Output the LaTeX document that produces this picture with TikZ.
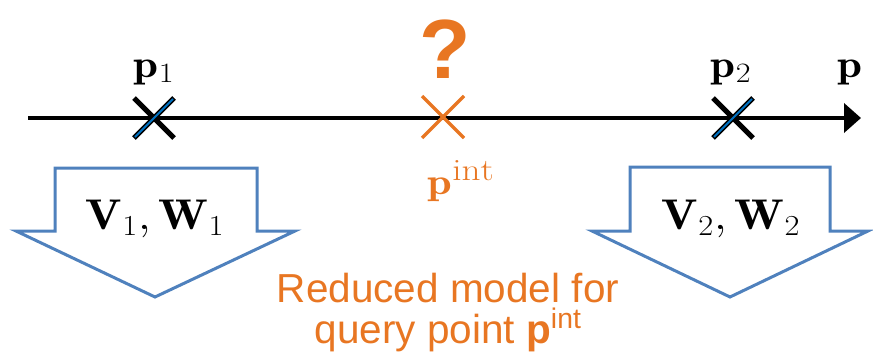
\RequirePackage{fix-cm}
\documentclass[tikz,border=0pt]{standalone}
\usepackage{graphicx}
\usepackage{fontspec}
\newfontfamily\sansf{Liberation Sans}
\usetikzlibrary{arrows.meta}
\DeclareMathSizes{39}{39}{28}{21}
\DeclareMathSizes{43}{43}{29}{22}
\DeclareMathSizes{37}{37}{31}{23}
\newcommand{\wide}[2]{\scalebox{#1}[1]{#2}}
\definecolor{orng}{RGB}{232,118,34}
\definecolor{arrblue}{RGB}{79,129,189}
\definecolor{xblue}{RGB}{0,112,192}
\begin{document}
\begin{tikzpicture}[x=1pt,y=-1pt,
  axisline/.style={line width=4pt,-{Triangle[length=17pt,width=29pt]}},
  blockarrow/.style={draw=arrblue,line width=3pt,line join=miter,fill=white},
  mathlbl/.style={font=\fontsize{39}{42}\selectfont,anchor=base,inner sep=0pt},
  vwlbl/.style={font=\fontsize{43}{46}\selectfont,anchor=base,inner sep=0pt},
  crossblack/.style={line width=5pt,black},
  crossblue/.style={line width=2pt,xblue},
  crossorange/.style={line width=3.5pt,orng},
  caption/.style={font=\sansf\fontsize{40.5}{41}\selectfont,text=orng,anchor=base,inner sep=0pt}]
\useasboundingbox (0,0) rectangle (873,364);
% axis
\coordinate (a0) at (28,118);
\coordinate (a1) at (861,118);
\draw[axisline] (a0) -- (a1);
\node[mathlbl] (plab) at (850,77) {\wide{1.15}{$\mathbf{p}$}};
% cross p1
\coordinate (x1) at (154,118);
\draw[crossblack] ([shift={(-20,-20)}]x1) -- ([shift={(20,20)}]x1);
\draw[crossblack] ([shift={(-20,20)}]x1) -- ([shift={(20,-20)}]x1);
\draw[crossblue] ([shift={(-19,19)}]x1) -- ([shift={(19,-19)}]x1);
\node[mathlbl] (p1) at (154,77) {\wide{1.15}{$\mathbf{p}_1$}};
% cross p2
\coordinate (x2) at (733,118);
\draw[crossblack] ([shift={(-20,-20)}]x2) -- ([shift={(20,20)}]x2);
\draw[crossblack] ([shift={(-20,20)}]x2) -- ([shift={(20,-20)}]x2);
\draw[crossblue] ([shift={(-19,19)}]x2) -- ([shift={(19,-19)}]x2);
\node[mathlbl] (p2) at (731,77) {\wide{1.15}{$\mathbf{p}_2$}};
% interpolation point
\coordinate (xi) at (443,117);
\draw[crossorange] ([shift={(-21,-21)}]xi) -- ([shift={(21,21)}]xi);
\draw[crossorange] ([shift={(-21,21)}]xi) -- ([shift={(21,-21)}]xi);
\node[font=\sansf\bfseries\fontsize{84}{90}\selectfont,text=orng,anchor=base,inner sep=0pt] (q) at (445,78) {?};
\node[font=\fontsize{37}{40}\selectfont,anchor=base,inner sep=0pt,text=orng] (pint) at (461,194) {\wide{1.2}{$\mathbf{p}^{\mathrm{int}}$}};
% left block arrow
\draw[blockarrow] (55,168) -- (257,168) -- (257,231) -- (295,231) -- (155,297) -- (16,231) -- (55,231) -- cycle;
\node[vwlbl] (vw1) at (155,229) {\wide{1.12}{$\mathbf{V}_1,\mathbf{W}_1$}};
% right block arrow
\draw[blockarrow] (630,167) -- (830,167) -- (830,231) -- (868,231) -- (730,297) -- (592,231) -- (630,231) -- cycle;
\node[vwlbl] (vw2) at (731,229) {\wide{1.12}{$\mathbf{V}_2,\mathbf{W}_2$}};
% caption
\node[caption,text depth=0pt] (c1) at (448,302.5) {Reduced model for};
\node[caption,text height=29pt] (c2) at (448,343.5) {query point {\bfseries p}\textsuperscript{int}};
\end{tikzpicture}
\end{document}
